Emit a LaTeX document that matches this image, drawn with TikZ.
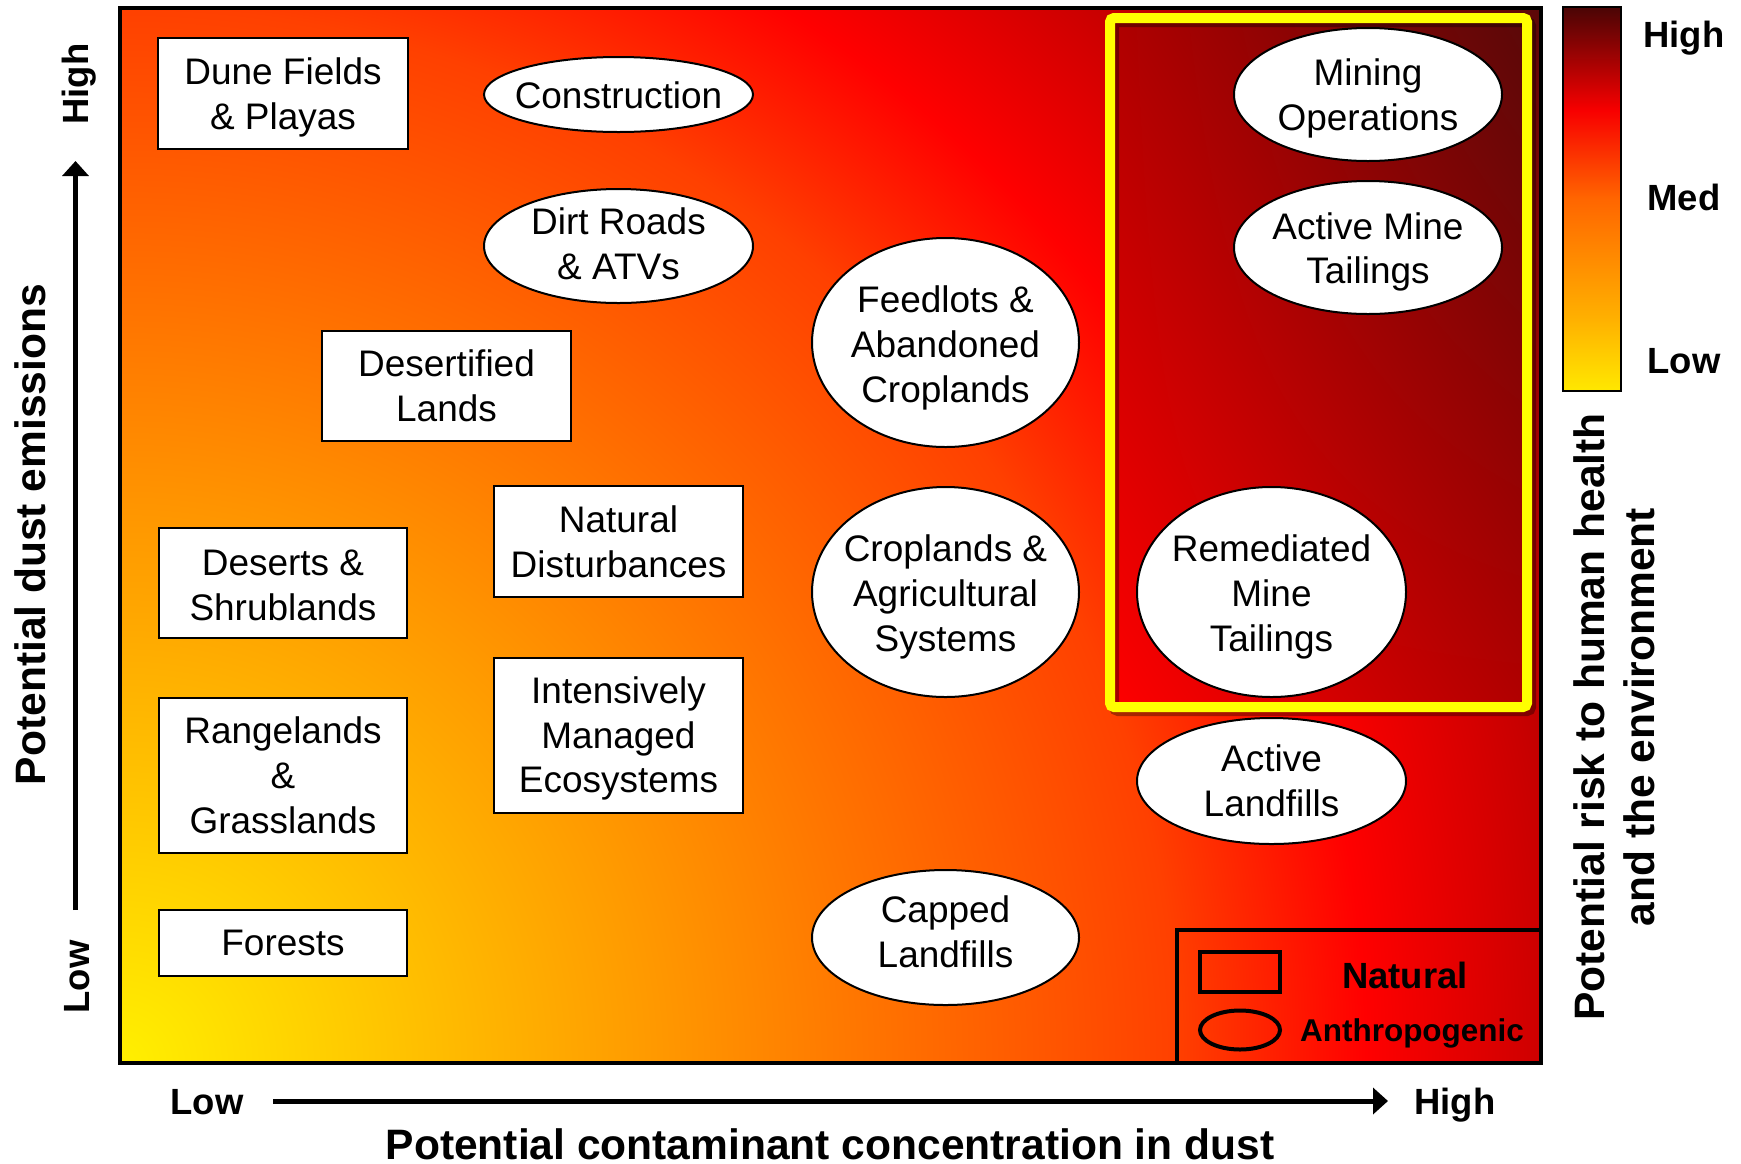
\documentclass[tikz,border=0pt]{standalone}
\usepackage{fontspec}
\setmainfont{Liberation Sans}
\usetikzlibrary{arrows.meta,shapes.geometric,shadings}

\definecolor{bgA}{HTML}{FFF000}
\definecolor{bgB}{HTML}{FF9A00}
\definecolor{bgC}{HTML}{FF4000}
\definecolor{bgD}{HTML}{FF0000}
\definecolor{bgE}{HTML}{C80000}
\definecolor{bgF}{HTML}{5A0808}
\definecolor{cbA}{HTML}{FFE800}
\definecolor{cbB}{HTML}{FFB000}
\definecolor{cbC}{HTML}{FF6600}
\definecolor{cbD}{HTML}{F80000}
\definecolor{cbE}{HTML}{4A0505}
\definecolor{boxLL}{HTML}{FF0000}
\definecolor{boxMid}{HTML}{B00000}
\definecolor{boxUR}{HTML}{5A0808}
\definecolor{hiyellow}{HTML}{FFFF00}

\pgfdeclareradialshading{dgbg}{\pgfpoint{0bp}{0bp}}{color(0bp)=(bgA); color(7.33bp)=(bgB); color(14.67bp)=(bgC); color(17.3bp)=(bgD); color(20bp)=(bgE); color(24.6bp)=(bgF); color(25bp)=(bgF); color(50bp)=(bgF)}
\pgfdeclareverticalshading{dgbar}{100bp}{color(0bp)=(cbA); color(25bp)=(cbA); color(34.5bp)=(cbB); color(50bp)=(cbC); color(61.5bp)=(cbD); color(75bp)=(cbE); color(100bp)=(cbE)}

\newcommand\dgbody{\fontsize{37.1pt}{45pt}\selectfont}
\newcommand\dglab{\fontsize{36.6pt}{44pt}\selectfont\bfseries}
\newcommand\dgtitle{\fontsize{42.7pt}{50.5pt}\selectfont\bfseries}
\newcommand\dganth{\fontsize{31.6pt}{38pt}\selectfont\bfseries}

\begin{document}
\begin{tikzpicture}[x=1bp,y=-1bp,
  every node/.style={inner sep=0pt, outer sep=0pt},
  natbox/.style={draw=black, line width=2bp, fill=white, rectangle},
  anthell/.style={draw=black, line width=2bp, fill=white, ellipse},
  srctxt/.style={align=center, font=\dgbody},
  boldlab/.style={font=\dglab, text height=26.2bp, text depth=0pt},
  axisarrow/.style={line width=5bp, -{Triangle[length=15bp,width=26bp]}}
]
\useasboundingbox (0,0) rectangle (1741,1163);

% background gradient
\begin{scope}
  \clip (120,8) rectangle (1541,1063);
  \shade[shading=dgbg] (-1680,-737) rectangle (1920,2863);
\end{scope}

% highlighted region
\shade[lower left=boxLL, upper left=boxMid, lower right=boxMid, upper right=boxUR] (1110,18) rectangle (1527,707);
\draw[black, opacity=0.35, line width=10bp, rounded corners=4bp] (1114,22) rectangle (1531,711);
\draw[hiyellow, line width=10bp, rounded corners=4bp] (1110,18) rectangle (1527,707);

% frame and legend box
\draw[line width=4bp] (120,8) rectangle (1541,1063);
\draw[line width=4bp] (1177,1063) |- (1541,930);

% natural sources
\node[natbox, minimum width=250bp, minimum height=111bp] (dune) at (283,93.5) {};
\node[srctxt, yshift=-4bp] (dunetxt) at (dune) {Dune Fields\\\& Playas};
\node[natbox, minimum width=249bp, minimum height=110bp] (desertified) at (446.5,386) {};
\node[srctxt] (desertifiedtxt) at (desertified) {Desertified\\Lands};
\node[natbox, minimum width=248bp, minimum height=110bp] (deserts) at (283,583) {};
\node[srctxt, yshift=-2bp] (desertstxt) at (deserts) {Deserts \&\\Shrublands};
\node[natbox, minimum width=249bp, minimum height=111bp] (natdist) at (618.5,541.5) {};
\node[srctxt] (natdisttxt) at (natdist) {Natural\\Disturbances};
\node[natbox, minimum width=248bp, minimum height=155bp] (range) at (283,775.5) {};
\node[srctxt] (rangetxt) at (range) {Rangelands\\\&\\Grasslands};
\node[natbox, minimum width=249bp, minimum height=155bp] (intens) at (618.5,735.5) {};
\node[srctxt, yshift=-3bp] (intenstxt) at (intens) {Intensively\\Managed\\Ecosystems};
\node[natbox, minimum width=248bp, minimum height=66bp] (forest) at (283,942.5) {};
\node[srctxt] (foresttxt) at (forest) {Forests};

% anthropogenic sources
\node[anthell, minimum width=269bp, minimum height=75bp] (constr) at (618.5,94.5) {};
\node[srctxt, yshift=-1bp] (constrtxt) at (constr) {Construction};
\node[anthell, minimum width=269bp, minimum height=114bp] (dirt) at (618.5,246) {};
\node[srctxt, yshift=2bp] (dirttxt) at (dirt) {Dirt Roads\\\& ATVs};
\node[anthell, minimum width=267bp, minimum height=209bp] (feed) at (945.5,342.5) {};
\node[srctxt, yshift=-5.5bp] (feedtxt) at (feed) {Feedlots \&\\Abandoned\\Croplands};
\node[anthell, minimum width=267bp, minimum height=210bp] (crop) at (945.5,592) {};
\node[srctxt, yshift=-5bp] (croptxt) at (crop) {Croplands \&\\Agricultural\\Systems};
\node[anthell, minimum width=267bp, minimum height=135bp] (capped) at (945.5,937.5) {};
\node[srctxt, yshift=5.5bp] (cappedtxt) at (capped) {Capped\\Landfills};
\node[anthell, minimum width=268bp, minimum height=133bp] (mining) at (1368,94.5) {};
\node[srctxt, yshift=-4bp] (miningtxt) at (mining) {Mining\\Operations};
\node[anthell, minimum width=268bp, minimum height=133bp] (amt) at (1368,247.5) {};
\node[srctxt, yshift=-4.5bp] (amttxt) at (amt) {Active Mine\\Tailings};
\node[anthell, minimum width=269bp, minimum height=210bp] (remed) at (1271.5,592) {};
\node[srctxt, yshift=-5bp] (remedtxt) at (remed) {Remediated\\Mine\\Tailings};
\node[anthell, minimum width=269bp, minimum height=126bp] (activel) at (1271.5,781) {};
\node[srctxt] (activeltxt) at (activel) {Active\\Landfills};

% legend
\node[draw=black, line width=4bp, rectangle, minimum width=80bp, minimum height=40bp] (legrect) at (1240,972) {};
\node[draw=black, line width=4bp, ellipse, minimum width=80bp, minimum height=39bp] (legell) at (1240,1030) {};
\node[boldlab] (legnat) at (1405,975) {Natural};
\node[font=\dganth, text height=22.6bp, text depth=0pt] (leganth) at (1412,1030) {Anthropogenic};

% colour bar
\shade[shading=dgbar] (1563,7) rectangle (1621,391);
\draw[line width=2.5bp] (1563,7) rectangle (1621,391);
\node[boldlab] (cbhigh) at (1684,34) {High};
\node[boldlab] (cbmed) at (1684,197) {Med};
\node[boldlab] (cblow) at (1684,360) {Low};

% axes
\coordinate (ytail) at (75.5,910);
\coordinate (ytip) at (75.5,161);
\draw[axisarrow] (ytail) -- (ytip);
\coordinate (xtail) at (273,1101);
\coordinate (xtip) at (1388,1101);
\draw[axisarrow] (xtail) -- (xtip);

\node[boldlab, rotate=90] (yhigh) at (75,84) {High};
\node[boldlab, rotate=90] (ylow) at (76,977) {Low};
\node[boldlab] (xlow) at (207,1101) {Low};
\node[boldlab] (xhigh) at (1455,1101) {High};
\node[font=\dgtitle, text height=30.5bp, text depth=0pt] (xtitle) at (830,1144) {Potential contaminant concentration in dust};
\node[font=\dgtitle, text height=30.5bp, text depth=0pt, rotate=90] (ytitle) at (30,534.5) {Potential dust emissions};
\node[font=\dgtitle, align=center, rotate=90] (rtitle) at (1614.5,717) {Potential risk to human health\\and the environment};
\end{tikzpicture}
\end{document}
